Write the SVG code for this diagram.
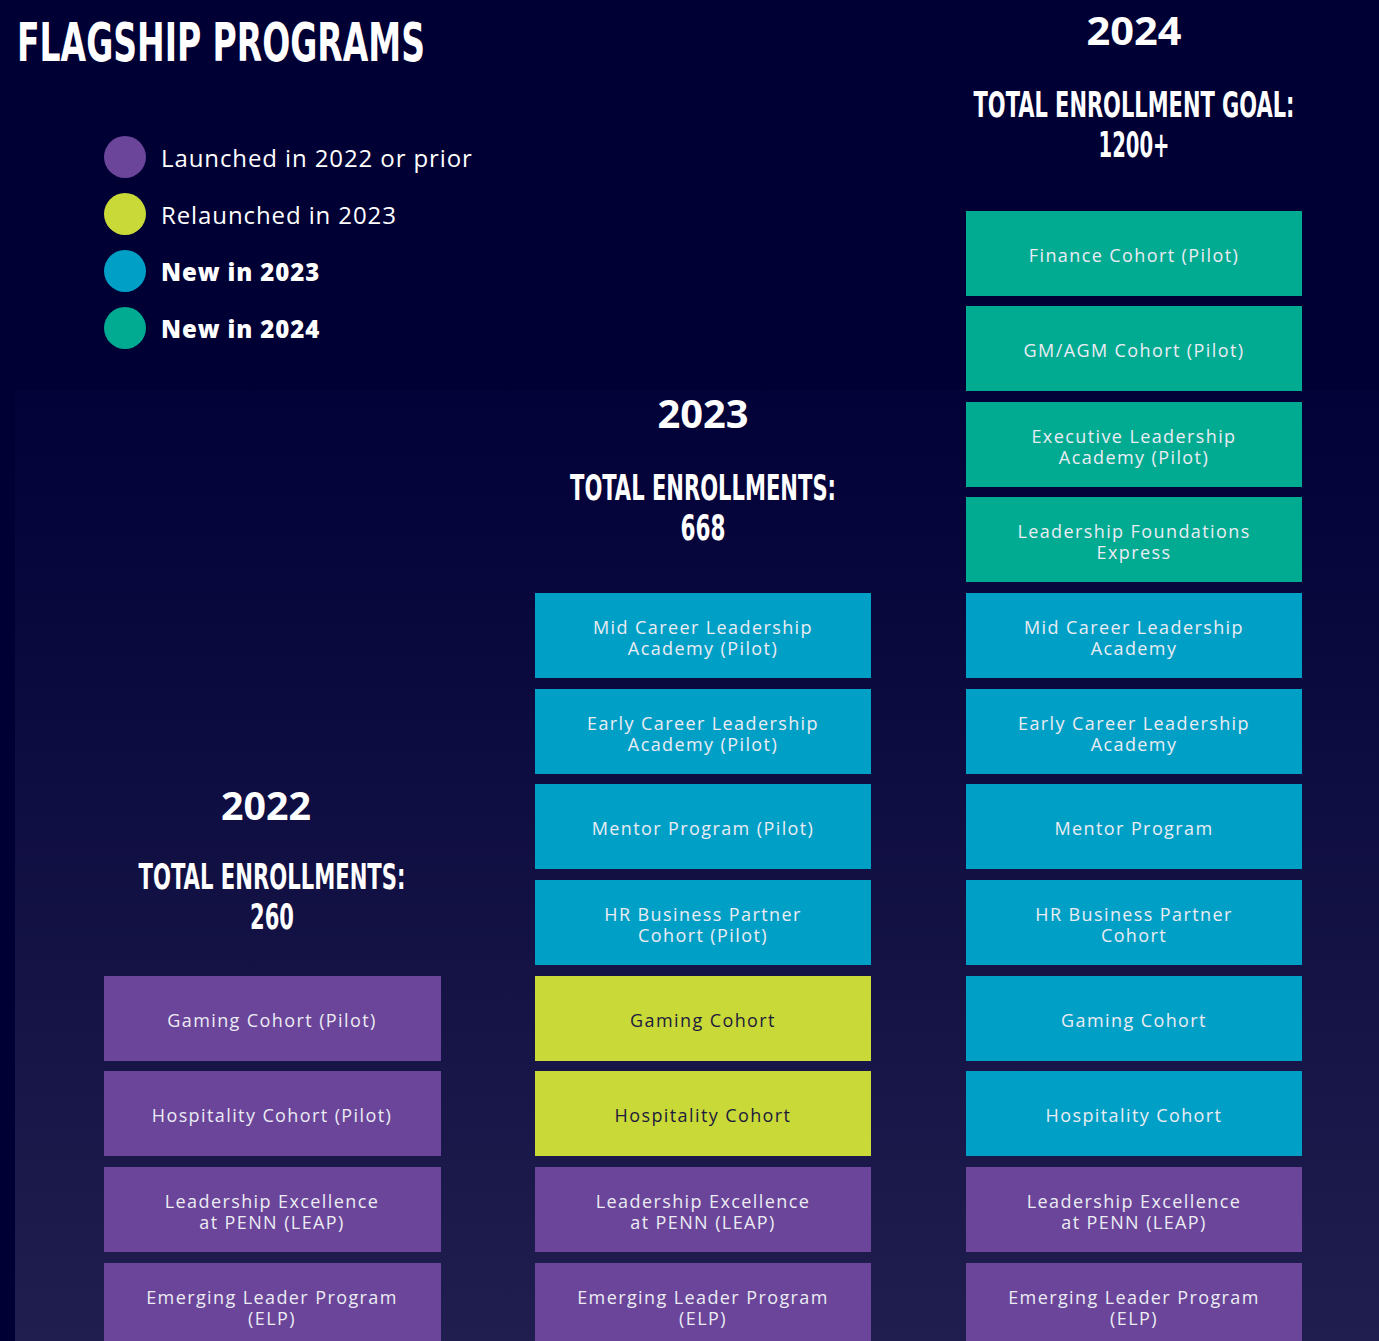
<svg xmlns="http://www.w3.org/2000/svg" width="1379" height="1341" viewBox="0 0 1379 1341">
  <defs>
    <linearGradient id="panelGrad" x1="0" y1="0" x2="0" y2="1">
      <stop offset="0" stop-color="#020138"/>
      <stop offset="1" stop-color="#201e4e"/>
    </linearGradient>
    <style>
      .title { font-family: "DejaVu Sans Condensed", "DejaVu Sans", sans-serif; font-weight: bold; fill: #ffffff; }
      .head { font-family: "DejaVu Sans Condensed", "DejaVu Sans", sans-serif; font-weight: bold; fill: #ffffff; text-anchor: middle; }
      .year { font-family: "Open Sans", "DejaVu Sans", sans-serif; font-weight: 700; fill: #ffffff; text-anchor: middle; font-size: 40px; }
      .leg { font-family: "Open Sans", "DejaVu Sans", sans-serif; font-size: 24px; fill: #ffffff; letter-spacing: 0.9px; }
      .legb { font-weight: 800; }
      .box text { font-family: "Open Sans", "DejaVu Sans", sans-serif; font-size: 18px; fill: #ececf4; text-anchor: middle; letter-spacing: 1.4px; }
      .box.lime text { fill: #1d1b3c; }
      .purple { fill: #6a4599; }
      .lime rect, .limeDot { fill: #c9d937; }
      .blue { fill: #00a0c6; }
      .teal { fill: #00ab91; }
    </style>
  </defs>

  <!-- background -->
  <rect x="0" y="0" width="1379" height="1341" fill="#000035"/>
  <rect x="15" y="390" width="1364" height="951" fill="url(#panelGrad)"/>

  <!-- heading -->
  <text class="title" x="17" y="61" font-size="53" textLength="408" lengthAdjust="spacingAndGlyphs">FLAGSHIP PROGRAMS</text>

  <!-- legend -->
  <g id="legend">
    <circle class="purple" cx="125" cy="157" r="21"/>
    <text class="leg" x="161" y="167">Launched in 2022 or prior</text>
    <circle class="limeDot" cx="125" cy="214" r="21"/>
    <text class="leg" x="161" y="224">Relaunched in 2023</text>
    <circle class="blue" cx="125" cy="271" r="21"/>
    <text class="leg legb" x="161" y="281">New in 2023</text>
    <circle class="teal" cx="125" cy="328" r="21"/>
    <text class="leg legb" x="161" y="338">New in 2024</text>
  </g>

  <!-- column headings -->
  <g id="head-2024">
    <text class="year" x="1134" y="45" textLength="95" lengthAdjust="spacingAndGlyphs">2024</text>
    <text class="head" x="1134" y="117" font-size="35" textLength="321" lengthAdjust="spacingAndGlyphs">TOTAL ENROLLMENT GOAL:</text>
    <text class="head" x="1134" y="157" font-size="35" textLength="71" lengthAdjust="spacingAndGlyphs">1200+</text>
  </g>
  <g id="head-2023">
    <text class="year" x="703" y="428" textLength="91" lengthAdjust="spacingAndGlyphs">2023</text>
    <text class="head" x="703" y="500" font-size="35" textLength="266" lengthAdjust="spacingAndGlyphs">TOTAL ENROLLMENTS:</text>
    <text class="head" x="703" y="540" font-size="35" textLength="45" lengthAdjust="spacingAndGlyphs">668</text>
  </g>
  <g id="head-2022">
    <text class="year" x="266" y="820" textLength="90" lengthAdjust="spacingAndGlyphs">2022</text>
    <text class="head" x="272" y="889" font-size="35" textLength="267" lengthAdjust="spacingAndGlyphs">TOTAL ENROLLMENTS:</text>
    <text class="head" x="272" y="929" font-size="35" textLength="44" lengthAdjust="spacingAndGlyphs">260</text>
  </g>

  <!-- 2022 column -->
  <g id="c22-gaming" class="box"><rect class="purple" x="104" y="976" width="337" height="85"/><text x="272" y="1027">Gaming Cohort (Pilot)</text></g>
  <g id="c22-hospitality" class="box"><rect class="purple" x="104" y="1071" width="337" height="85"/><text x="272" y="1122">Hospitality Cohort (Pilot)</text></g>
  <g id="c22-leap" class="box"><rect class="purple" x="104" y="1167" width="337" height="85"/><text x="272" y="1208">Leadership Excellence</text><text x="272" y="1229">at PENN (LEAP)</text></g>
  <g id="c22-elp" class="box"><rect class="purple" x="104" y="1263" width="337" height="85"/><text x="272" y="1304">Emerging Leader Program</text><text x="272" y="1325">(ELP)</text></g>

  <!-- 2023 column -->
  <g id="c23-midcareer" class="box"><rect class="blue" x="535" y="593" width="336" height="85"/><text x="703" y="634">Mid Career Leadership</text><text x="703" y="655">Academy (Pilot)</text></g>
  <g id="c23-earlycareer" class="box"><rect class="blue" x="535" y="689" width="336" height="85"/><text x="703" y="730">Early Career Leadership</text><text x="703" y="751">Academy (Pilot)</text></g>
  <g id="c23-mentor" class="box"><rect class="blue" x="535" y="784" width="336" height="85"/><text x="703" y="835">Mentor Program (Pilot)</text></g>
  <g id="c23-hrbp" class="box"><rect class="blue" x="535" y="880" width="336" height="85"/><text x="703" y="921">HR Business Partner</text><text x="703" y="942">Cohort (Pilot)</text></g>
  <g id="c23-gaming" class="box lime"><rect x="535" y="976" width="336" height="85"/><text x="703" y="1027">Gaming Cohort</text></g>
  <g id="c23-hospitality" class="box lime"><rect x="535" y="1071" width="336" height="85"/><text x="703" y="1122">Hospitality Cohort</text></g>
  <g id="c23-leap" class="box"><rect class="purple" x="535" y="1167" width="336" height="85"/><text x="703" y="1208">Leadership Excellence</text><text x="703" y="1229">at PENN (LEAP)</text></g>
  <g id="c23-elp" class="box"><rect class="purple" x="535" y="1263" width="336" height="85"/><text x="703" y="1304">Emerging Leader Program</text><text x="703" y="1325">(ELP)</text></g>

  <!-- 2024 column -->
  <g id="c24-finance" class="box"><rect class="teal" x="966" y="211" width="336" height="85"/><text x="1134" y="262">Finance Cohort (Pilot)</text></g>
  <g id="c24-gmagm" class="box"><rect class="teal" x="966" y="306" width="336" height="85"/><text x="1134" y="357">GM/AGM Cohort (Pilot)</text></g>
  <g id="c24-exec" class="box"><rect class="teal" x="966" y="402" width="336" height="85"/><text x="1134" y="443">Executive Leadership</text><text x="1134" y="464">Academy (Pilot)</text></g>
  <g id="c24-lfe" class="box"><rect class="teal" x="966" y="497" width="336" height="85"/><text x="1134" y="538">Leadership Foundations</text><text x="1134" y="559">Express</text></g>
  <g id="c24-midcareer" class="box"><rect class="blue" x="966" y="593" width="336" height="85"/><text x="1134" y="634">Mid Career Leadership</text><text x="1134" y="655">Academy</text></g>
  <g id="c24-earlycareer" class="box"><rect class="blue" x="966" y="689" width="336" height="85"/><text x="1134" y="730">Early Career Leadership</text><text x="1134" y="751">Academy</text></g>
  <g id="c24-mentor" class="box"><rect class="blue" x="966" y="784" width="336" height="85"/><text x="1134" y="835">Mentor Program</text></g>
  <g id="c24-hrbp" class="box"><rect class="blue" x="966" y="880" width="336" height="85"/><text x="1134" y="921">HR Business Partner</text><text x="1134" y="942">Cohort</text></g>
  <g id="c24-gaming" class="box"><rect class="blue" x="966" y="976" width="336" height="85"/><text x="1134" y="1027">Gaming Cohort</text></g>
  <g id="c24-hospitality" class="box"><rect class="blue" x="966" y="1071" width="336" height="85"/><text x="1134" y="1122">Hospitality Cohort</text></g>
  <g id="c24-leap" class="box"><rect class="purple" x="966" y="1167" width="336" height="85"/><text x="1134" y="1208">Leadership Excellence</text><text x="1134" y="1229">at PENN (LEAP)</text></g>
  <g id="c24-elp" class="box"><rect class="purple" x="966" y="1263" width="336" height="85"/><text x="1134" y="1304">Emerging Leader Program</text><text x="1134" y="1325">(ELP)</text></g>

  <!-- no connectors in this chart -->
  <g id="connectors"/>
</svg>
